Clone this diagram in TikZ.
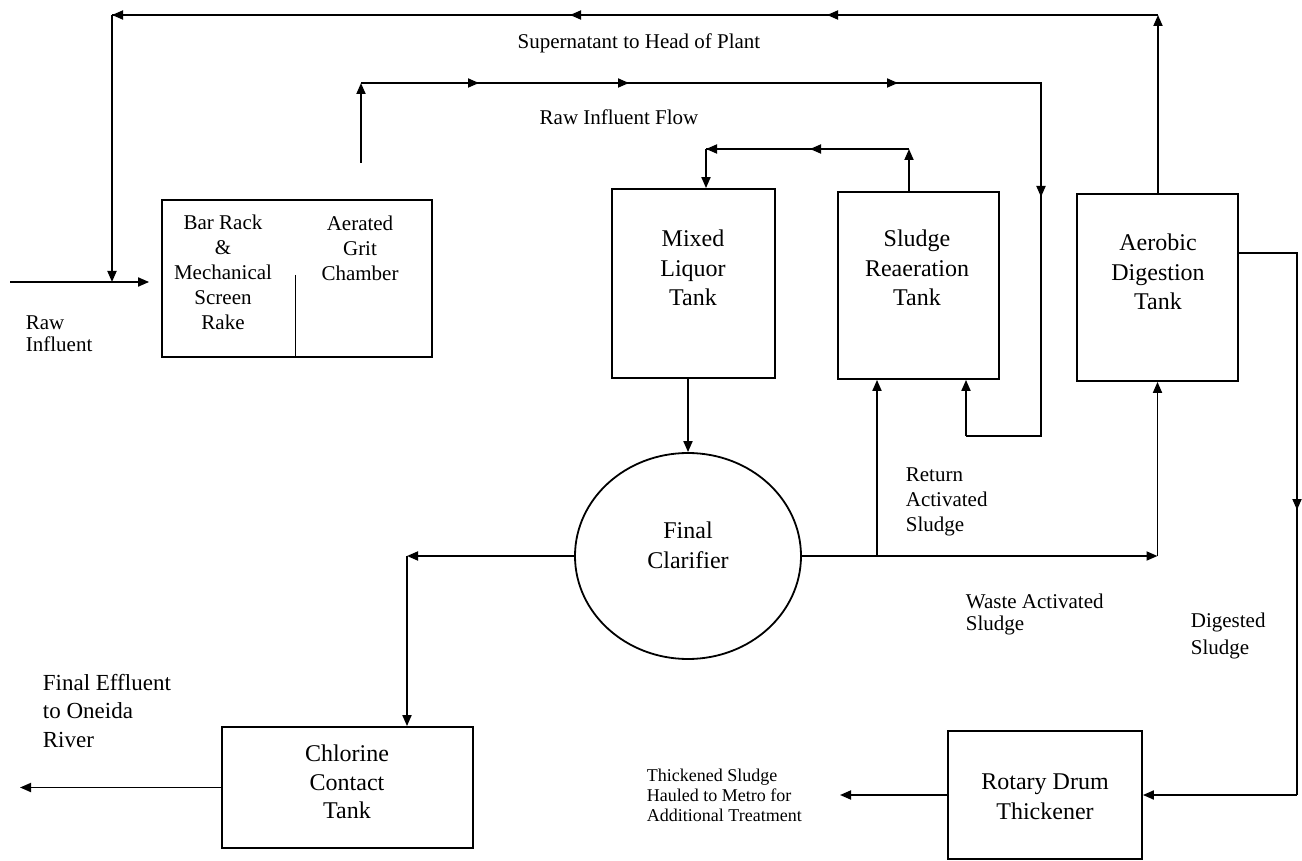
\documentclass[tikz,border=0pt]{standalone}
\usepackage{fontspec}
\setmainfont{Liberation Serif}
\usetikzlibrary{arrows.meta,shapes.geometric}
\begin{document}
\begin{tikzpicture}[x=1pt,y=-1pt,
  line width=1.8pt,
  box/.style={draw, rectangle, inner sep=0pt},
  tri/.style={-{Triangle[length=11pt,width=9pt]}},
  big/.style={font=\fontsize{24}{29.5}\selectfont, align=center, inner sep=0pt},
  med/.style={font=\fontsize{21}{25}\selectfont, align=center, inner sep=0pt},
  lab/.style={align=left, inner sep=0pt, anchor=west}
]
\useasboundingbox (0,0) rectangle (1302,861);

% ---------- boxes ----------
\node[box, minimum width=270, minimum height=157] (bar) at (297,278.5) {};
\node[box, minimum width=163, minimum height=189] (mlt) at (693.5,283.5) {};
\node[box, minimum width=161, minimum height=187] (srt) at (918.5,285.5) {};
\node[box, minimum width=161, minimum height=187] (adt) at (1157.5,287.5) {};
\node[draw, ellipse, inner sep=0pt, minimum width=226, minimum height=206] (clar) at (688,556) {};
\node[box, minimum width=251, minimum height=121] (cct) at (347.5,787.5) {};
\node[box, minimum width=194, minimum height=128] (rdt) at (1045,795) {};

\coordinate (dv) at (295,275);
\draw[line width=0.9pt] (dv) -- (dv |- bar.south);

% ---------- box texts ----------
\node[med] (bart) at (223,272) {Bar Rack\\\&\\Mechanical\\Screen\\Rake};
\node[med] (gritt) at (360,248) {Aerated\\Grit\\Chamber};
\node[big] (mltt) at (693,268) {Mixed\\Liquor\\Tank};
\node[big] (srtt) at (917,268) {Sludge\\Reaeration\\Tank};
\node[big] (adtt) at (1158,272) {Aerobic\\Digestion\\Tank};
\node[big, font=\fontsize{24}{30}\selectfont] (clart) at (688,545) {Final\\Clarifier};
\node[big, font=\fontsize{24}{28.5}\selectfont] (cctt) at (347,782) {Chlorine\\Contact\\Tank};
\node[big, font=\fontsize{24}{30}\selectfont] (rdtt) at (1045,797) {Rotary Drum\\Thickener};

% ---------- labels ----------
\node[inner sep=0pt, font=\fontsize{21}{25}\selectfont] (lsup) at (639,43) {Supernatant to Head of Plant};
\node[inner sep=0pt, font=\fontsize{21}{25}\selectfont] (lraw) at (619,117) {Raw Influent Flow};
\node[lab, font=\fontsize{21}{22}\selectfont] (lrin) at (25,334) {Raw\\Influent};
\node[lab, font=\fontsize{23}{28.5}\selectfont] (lfe) at (42,711) {Final Effluent\\to Oneida\\River};
\node[lab, font=\fontsize{21}{25}\selectfont] (lret) at (905,502) {Return\\Activated\\Sludge};
\node[lab, font=\fontsize{21}{22}\selectfont] (lwas) at (965,614) {Waste Activated\\Sludge};
\node[lab, font=\fontsize{21}{27}\selectfont] (ldig) at (1190,636) {Digested\\Sludge};
\node[lab, font=\fontsize{18}{20}\selectfont] (lthk) at (646,795) {Thickened Sludge\\Hauled to Metro for\\Additional Treatment};

% ---------- raw influent ----------
\coordinate (rin) at (10,282);
\draw[tri, shorten >=12pt] (rin) -- (bar.west |- rin);

% ---------- supernatant return ----------
\coordinate (s1) at (1158,15);
\coordinate (s2) at (112,15);
\coordinate (s3) at (112,282);
\coordinate (sa) at (827,15);
\coordinate (sb) at (570,15);
\draw[tri] (adt.north -| s1) -- (s1);
\draw (s1) -- (s2);
\draw[tri] (s1) -- (sa);
\draw[tri] (s1) -- (sb);
\draw[tri] (s1) -- (s2);
\draw[tri] (s2) -- (s3);

% ---------- raw influent flow ----------
\coordinate (g0) at (361,163);
\coordinate (g1) at (361,83);
\coordinate (g2) at (1041,83);
\coordinate (g3) at (1041,436);
\coordinate (g4) at (966,436);
\coordinate (ga) at (479,83);
\coordinate (gb) at (629,83);
\coordinate (gc) at (898,83);
\coordinate (gd) at (1041,197);
\draw[tri] (g0) -- (g1);
\draw (g1) -- (g2) -- (g3) -- (g4);
\draw[tri] (g1) -- (ga);
\draw[tri] (g1) -- (gb);
\draw[tri] (g1) -- (gc);
\draw[tri] (g2) -- (gd);
\draw[tri] (g4) -- (g4 |- srt.south);

% ---------- sludge reaeration to mixed liquor ----------
\coordinate (m1) at (909,149);
\coordinate (m2) at (706,149);
\coordinate (ma) at (810,149);
\draw[tri] (m1 |- srt.north) -- (m1);
\draw (m1) -- (m2);
\draw[tri] (m1) -- (ma);
\draw[tri] (m1) -- (m2);
\draw[tri] (m2) -- (m2 |- mlt.north);

% ---------- mixed liquor to clarifier ----------
\draw[tri] (clar.north |- mlt.south) -- (clar.north);

% ---------- clarifier to chlorine ----------
\coordinate (e1) at (407,556);
\draw[tri] (clar.west) -- (e1);
\draw[tri] (e1) -- (e1 |- cct.north);
\coordinate (fe) at (20,787.5);
\draw[tri] (cct.west) -- (fe);

% ---------- return / waste activated sludge ----------
\coordinate (w1) at (adt.south |- clar.east);
\coordinate (r0) at (877,556);
\draw[tri] (clar.east) -- (w1);
\draw[tri] (w1) -- (adt.south);
\draw[tri] (r0) -- (r0 |- srt.south);

% ---------- digested sludge ----------
\coordinate (h253) at (0,253);
\coordinate (d1) at (1297,253);
\coordinate (d2) at (1297,795);
\coordinate (dd) at (1297,510);
\draw (adt.east |- h253) -- (d1) -- (d2);
\draw[tri] (d1) -- (dd);
\draw[tri] (d2) -- (rdt.east);
\coordinate (th) at (840,795);
\draw[tri] (rdt.west) -- (th);
\end{tikzpicture}
\end{document}
